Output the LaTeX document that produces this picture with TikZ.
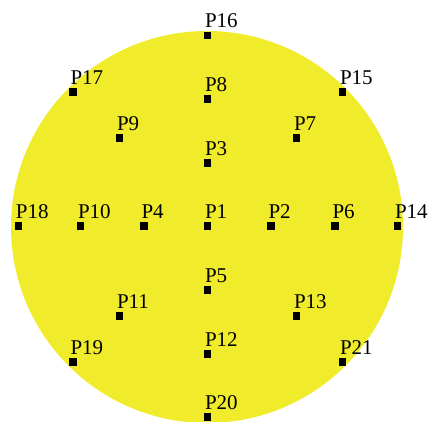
\documentclass[tikz,border=0pt]{standalone}
\usepackage{fontspec}
\setmainfont{Liberation Serif}
\definecolor{ylw}{RGB}{241,236,43}
\begin{document}
\begin{tikzpicture}[x=1pt,y=-1pt,
  sq/.style={fill=black, draw=none, minimum size=7.5pt, inner sep=0pt, outer sep=0pt},
  lbl/.style={anchor=base west, inner sep=0pt, outer sep=0pt, font=\fontsize{21}{21}\selectfont}]
\useasboundingbox (0,0) rectangle (430,421);
\clip (0,0) rectangle (430,421);
\fill[ylw] (207,227) circle[radius=196pt];
\foreach \n/\x/\y in {16/207.5/35.5, 17/73/92, 8/207.5/99, 15/342.5/92,
  9/119.5/138, 7/296.5/138, 3/207.5/163,
  18/18.5/226, 10/80.5/226, 4/144/226, 1/207.5/226, 2/271/226, 6/335/226, 14/397.5/226,
  5/207.5/290, 11/119.5/316, 13/296.5/316, 12/207.5/354,
  19/73/362, 21/342.5/362, 20/207.5/417} {
  \node[sq] (s\n) at (\x,\y) {};
  \node[lbl] (l\n) at (\x-2.5,\y-8) {P\n};
}
\end{tikzpicture}
\end{document}
